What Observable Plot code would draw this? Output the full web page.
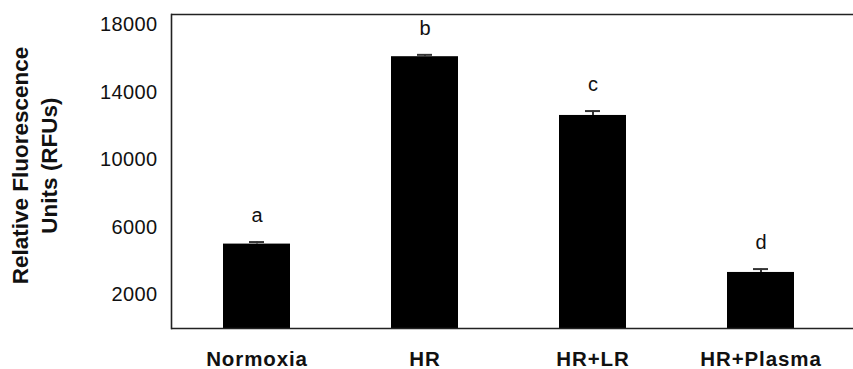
<!DOCTYPE html>
<html>
<head>
<meta charset="utf-8">
<script src="https://cdn.jsdelivr.net/npm/d3@7"></script>
<script src="https://cdn.jsdelivr.net/npm/@observablehq/plot@0.6"></script>
<style>
  html, body { margin: 0; padding: 0; background: #fff; overflow: hidden; }
  svg { display: block; }
  .xlab text { letter-spacing: 0.9px; }
  .ylab text { letter-spacing: 0.4px; }
</style>
</head>
<body>
<div id="chart"></div>
<script>
const groups = ["Normoxia", "HR", "HR+LR", "HR+Plasma"];
const means = [5000, 16100, 12620, 3320];
const errors = [120, 110, 260, 200];
const letters = ["a", "b", "c", "d"];
const yTicks = [2000, 6000, 10000, 14000, 18000];
const yLabel = "Relative Fluorescence\nUnits (RFUs)";

const data = groups.map((g, i) => ({group: g, mean: means[i], err: errors[i], top: means[i] + errors[i], letter: letters[i]}));

const font = "Liberation Sans, Arial, Helvetica, sans-serif";

const chart = Plot.plot({
  width: 853,
  height: 369,
  marginLeft: 171,
  marginRight: 0,
  marginTop: 14,
  marginBottom: 41,
  style: {fontFamily: font, background: "#fff", color: "#111"},
  x: {domain: groups, paddingInner: 0.6, paddingOuter: 0.318, align: 0.465, label: null},
  y: {domain: [0, 18600], label: null},
  marks: [
    Plot.barY(data, {x: "group", y: "mean", fill: "#000"}),
    Plot.ruleX(data, {x: "group", y1: "mean", y2: "top", stroke: "#333", strokeWidth: 2}),
    Plot.tickY(data, {x: "group", y: "top", stroke: "#333", strokeWidth: 2, insetLeft: 26, insetRight: 26}),
    Plot.text(data, {x: "group", y: "top", text: "letter", dy: -26, fontSize: 20, fill: "#111"}),
    Plot.ruleY([0], {stroke: "#222", strokeWidth: 1.6}),
    Plot.ruleY([18600], {stroke: "#222", strokeWidth: 1.6}),
    Plot.frame({anchor: "left", stroke: "#222", strokeWidth: 1.6}),
    Plot.axisY({ticks: yTicks, tickSize: 0, tickPadding: 14, fontSize: 20, tickFormat: d => String(d), label: null, className: "ylab"}),
    Plot.axisX({tickSize: 0, tickPadding: 23, fontSize: 20.5, fontWeight: "bold", label: null, className: "xlab"}),
    Plot.text([yLabel], {frameAnchor: "left", text: d => d, rotate: -90, textAnchor: "middle", dx: -138, dy: -6, fontSize: 22.5, fontWeight: "bold", lineHeight: 1.28, fill: "#111"})
  ]
});
document.getElementById("chart").appendChild(chart);
</script>
</body>
</html>
